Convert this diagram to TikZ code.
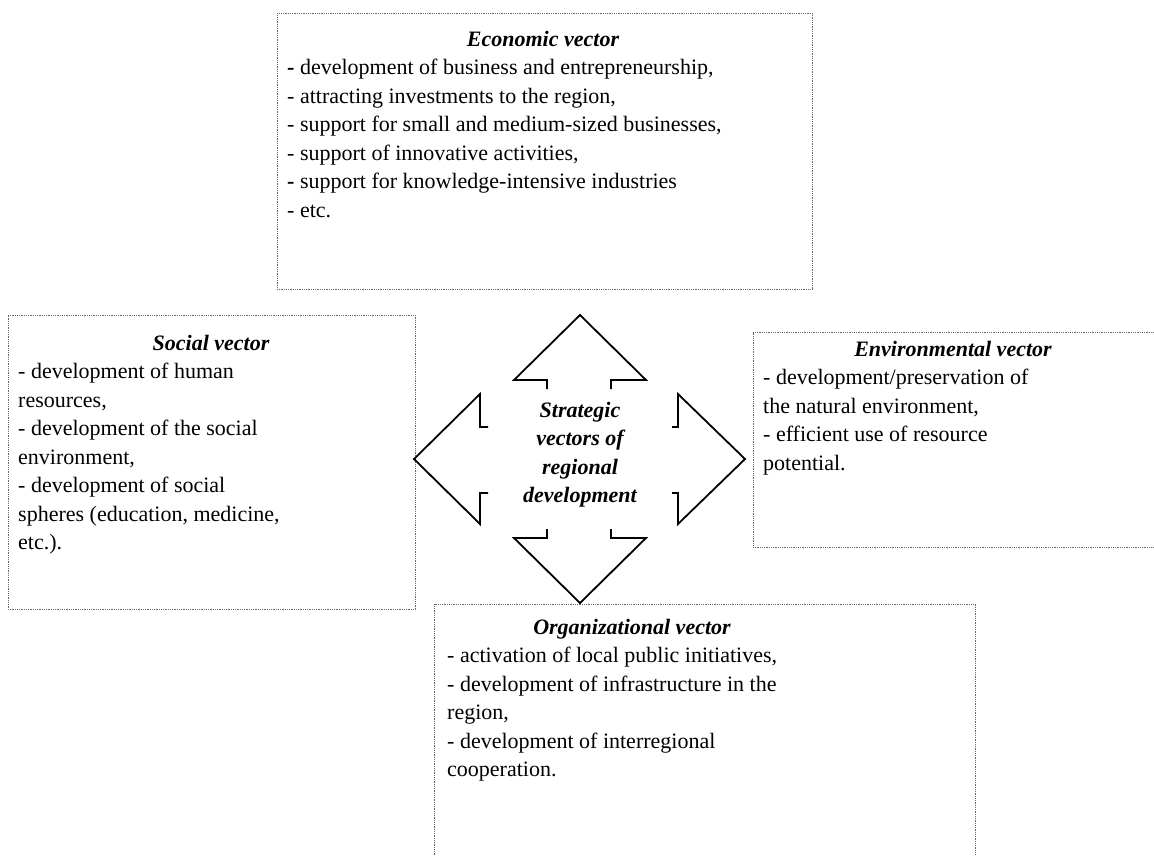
\documentclass[tikz,border=0pt]{standalone}
\usepackage{fontspec}
\setmainfont{Liberation Serif}
\begin{document}
\begin{tikzpicture}[x=1pt,y=-1pt,
  box/.style={draw=black!60, line width=0.8pt, dash pattern=on 1pt off 0.8pt, inner sep=0pt},
  ttl/.style={font=\fontsize{22}{28.5}\selectfont\bfseries\itshape, inner sep=0pt, anchor=base},
  body/.style={font=\fontsize{22}{28.5}\selectfont, align=left, inner sep=0pt, anchor=north west},
  arr/.style={draw=black, line width=1.8pt, line join=miter}]
\useasboundingbox (0,0) rectangle (1154,855);
\clip (0,0) rectangle (1154,855);
% boxes
\node[box, minimum width=535pt, minimum height=276pt] (eco) at (544.5,151) {};
\node[box, minimum width=407pt, minimum height=294pt] (soc) at (211.5,462) {};
\node[box, minimum width=407pt, minimum height=215pt] (env) at (956.5,439.5) {};
\node[box, minimum width=541pt, minimum height=266pt] (org) at (704.5,737) {};
% titles
\node[ttl] (ecot) at (543,46) {Economic vector};
\node[ttl] (soct) at (211,350) {Social vector};
\node[ttl] (envt) at (953,356) {Environmental vector};
\node[ttl] (orgt) at (632,634) {Organizational vector};
% bodies
\node[body] (ecob) at (287,54.5) {\strut\textbf{-} development of business and entrepreneurship,\\
- attracting investments to the region,\\
- support for small and medium-sized businesses,\\
- support of innovative activities,\\
\textbf{-} support for knowledge-intensive industries\\
- etc.};
\node[body] (socb) at (18,358.5) {\strut- development of human\\
resources,\\
- development of the social\\
environment,\\
- development of social\\
spheres (education, medicine,\\
etc.).};
\node[body] (envb) at (763,364.5) {\strut- development/preservation of\\
the natural environment,\\
- efficient use of resource\\
potential.};
\node[body] (orgb) at (447,642.5) {\strut- activation of local public initiatives,\\
- development of infrastructure in the\\
region,\\
- development of interregional\\
cooperation.};
% central four-way arrow
\draw[arr] (547,389) -- (547,380) -- (514,380) -- (580,315) -- (646,380) -- (611,380) -- (611,389);
\draw[arr] (547,529) -- (547,538) -- (514,538) -- (580,603) -- (646,538) -- (611,538) -- (611,529);
\draw[arr] (488,427) -- (480,427) -- (480,394) -- (414,459) -- (480,524) -- (480,493) -- (488,493);
\draw[arr] (672,427) -- (678,427) -- (678,394) -- (745,459) -- (678,524) -- (678,493) -- (672,493);
\node[font=\fontsize{22}{28.5}\selectfont\bfseries\itshape, align=center, inner sep=0pt, anchor=north] (ctr) at (580,397) {\strut Strategic\\vectors of\\regional\\development};
\end{tikzpicture}
\end{document}
